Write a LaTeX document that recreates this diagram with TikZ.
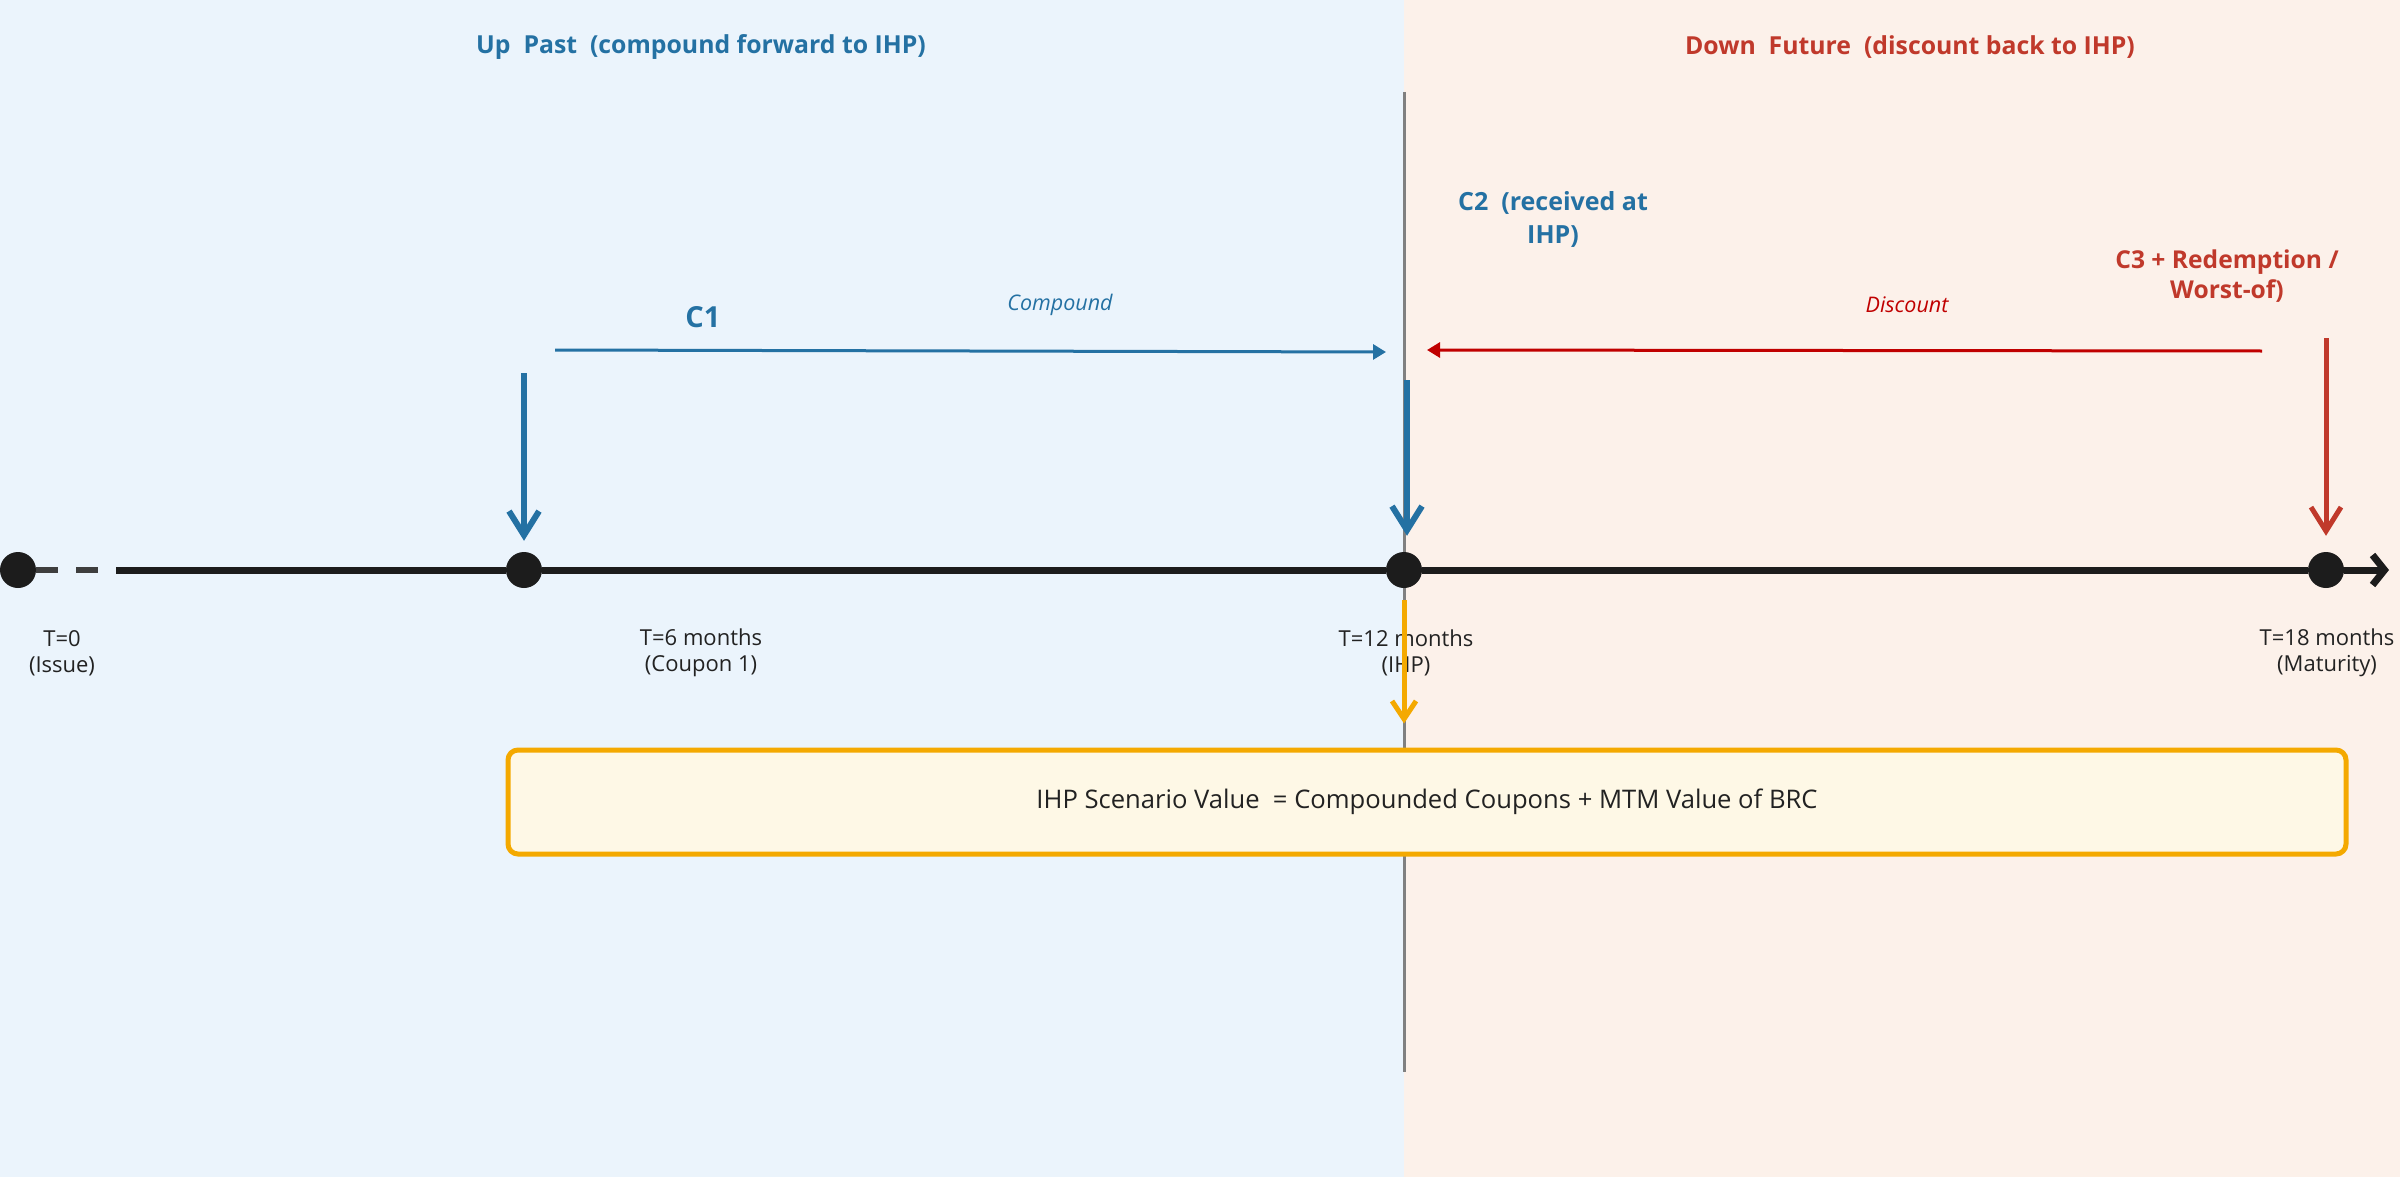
\documentclass[tikz,border=0pt]{standalone}
\usepackage{fontspec}
\setmainfont{Open Sans}
\usetikzlibrary{arrows.meta,calc}
\definecolor{pastbg}{HTML}{EBF4FC}
\definecolor{futbg}{HTML}{FCF1EA}
\definecolor{pastblue}{HTML}{2471A3}
\definecolor{futred}{HTML}{C0392B}
\definecolor{discred}{HTML}{C00000}
\definecolor{axisgrey}{HTML}{808080}
\definecolor{tline}{HTML}{1C1C1C}
\definecolor{ihporange}{HTML}{F4A900}
\definecolor{boxfill}{HTML}{FEF8E6}
\definecolor{labtext}{HTML}{222222}
\tikzset{
  dot/.style={circle,fill=tline,minimum size=36pt,inner sep=0pt},
  tlinestyle/.style={draw=tline,line width=7pt},
  tdash/.style={draw=tline!85!white,line width=6pt,dash pattern=on 22pt off 18pt},
  paneltitle/.style={font=\fontsize{24.8}{30}\selectfont\bfseries,anchor=center},
  cflow/.style={font=\fontsize{25}{33}\selectfont\bfseries,align=center,inner sep=0pt},
  flowtag/.style={font=\fontsize{21.5}{26}\selectfont\itshape,inner sep=0pt},
  tlabel/.style={font=\fontsize{22}{26}\selectfont,align=center,text=labtext,inner sep=0pt},
  cashdown/.style={line width=6pt,-{Straight Barb[length=24pt,width=30pt]}},
  flowarrow/.style={line width=3pt,-{Triangle[length=13pt,width=15pt]}},
  ihpbox/.style={draw=ihporange,line width=5pt,rounded corners=10pt,fill=boxfill,
    minimum width=1838pt,minimum height=104pt,inner sep=0pt,
    font=\fontsize{25.6}{30}\selectfont,text=labtext},
}
\begin{document}
\begin{tikzpicture}[x=1pt,y=-1pt]
\useasboundingbox (0,0) rectangle (2400,1177);
% panels
\fill[pastbg] (0,0) rectangle (1404,1177);
\fill[futbg] (1404,0) rectangle (2400,1177);
\draw[axisgrey,line width=3pt] (1404,92) -- (1404,1072);
% titles
\node[paneltitle,text=pastblue] (ttlpast) at (701,47) {Up~ Past~ (compound forward to IHP)};
\node[paneltitle,text=futred] (ttlfut) at (1910,47) {Down~ Future~ (discount back to IHP)};
% timeline dots
\node[dot] (t0) at (18,570) {};
\node[dot] (t6) at (524,570) {};
\node[dot] (t12) at (1404,570) {};
\node[dot] (t18) at (2326,570) {};
\coordinate (dashend) at (116,570);
\coordinate (tend) at (2389,570);
% timeline
\draw[tdash] (t0) -- (dashend);
\draw[tlinestyle] (dashend) -- (t6);
\draw[tlinestyle] (t6) -- (t12);
\draw[tlinestyle] (t12) -- (t18);
\draw[tlinestyle,-{Straight Barb[length=12pt,width=30pt]}] (t18) -- (tend);
% timeline labels
\node[tlabel] (l0) at (62,653) {T=0\\(Issue)};
\node[tlabel] (l6) at (701,653) {T=6 months\\(Coupon 1)};
\node[tlabel] (l12) at (1406,653) {T=12 months\\(IHP)};
\node[tlabel] (l18) at (2327,653) {T=18 months\\(Maturity)};
% cash flow labels
\node[cflow,text=pastblue,font=\fontsize{29}{34}\selectfont\bfseries] (c1) at (703,317) {C1};
\node[cflow,text=pastblue] (c2) at (1553,219) {C2~ (received at\\IHP)};
\node[cflow,text=futred,font=\fontsize{24.6}{30}\selectfont\bfseries] (c3) at (2227,276) {C3 + Redemption /\\Worst-of)};
% cash flow arrows
\coordinate (c1s) at (524,373);
\coordinate (c2s) at (1407,380);
\coordinate (c3s) at (2326,338);
\draw[cashdown,pastblue,shorten >=11pt] (c1s) -- (t6.north);
\draw[cashdown,pastblue,shorten >=16pt] (c2s) -- (c2s |- t12.north);
\draw[cashdown,futred,line width=5pt,shorten >=16pt] (c3s) -- (t18.north);
% compound / discount
\coordinate (cmps) at (555,350);
\coordinate (cmpe) at (1386,352);
\coordinate (dscs) at (2262,351);
\coordinate (dsce) at (1427,350);
\draw[flowarrow,pastblue] (cmps) -- (cmpe);
\draw[flowarrow,discred] (dscs) -- (dsce);
\node[flowtag,text=pastblue] (cmptag) at (1060,305) {Compound};
\node[flowtag,text=discred] (dsctag) at (1907,305) {Discount};
% IHP box
\node[ihpbox] (box) at (1427,802) {IHP Scenario Value~ = Compounded Coupons + MTM Value of BRC};
\draw[ihporange,line width=5pt,-{Straight Barb[length=18pt,width=24pt]},shorten <=12pt,shorten >=24pt] (t12.south) -- (t12 |- box.north);
\end{tikzpicture}
\end{document}
